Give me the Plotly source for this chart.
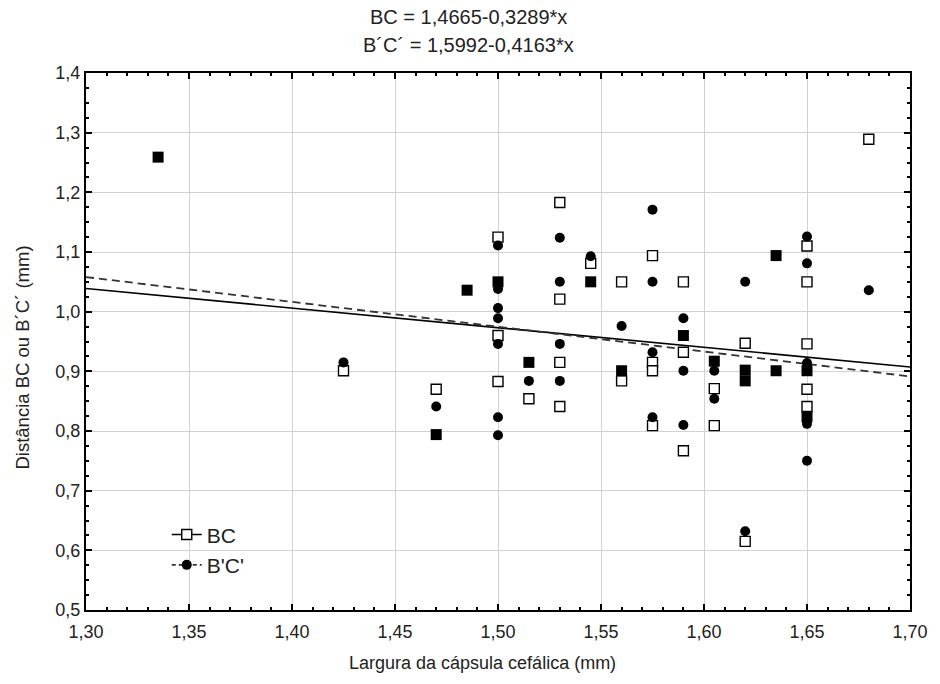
import plotly.graph_objects as go

# Open squares: BC only
bc_x = [1.425, 1.47, 1.50, 1.50, 1.50, 1.515, 1.53, 1.53, 1.53, 1.53, 1.545,
        1.56, 1.56, 1.575, 1.575, 1.575, 1.575, 1.59, 1.59, 1.59, 1.605, 1.605,
        1.62, 1.62, 1.65, 1.65, 1.65, 1.65, 1.65, 1.68]
bc_y = [0.901, 0.870, 1.125, 0.960, 0.883, 0.854, 1.183, 1.021, 0.915, 0.841, 1.081,
        1.050, 0.884, 1.094, 0.915, 0.901, 0.809, 1.050, 0.932, 0.767, 0.871, 0.809,
        0.947, 0.615, 1.110, 1.050, 0.946, 0.870, 0.841, 1.289]

# Filled circles: B'C' only
bcp_x = [1.425, 1.47, 1.50, 1.50, 1.50, 1.50, 1.50, 1.50, 1.50, 1.515,
         1.53, 1.53, 1.53, 1.53, 1.545, 1.56, 1.575, 1.575, 1.575, 1.575,
         1.59, 1.59, 1.59, 1.605, 1.605, 1.62, 1.62, 1.65, 1.65, 1.65, 1.65, 1.65, 1.68]
bcp_y = [0.915, 0.841, 1.111, 1.038, 1.006, 0.989, 0.946, 0.823, 0.793, 0.884,
         1.124, 1.050, 0.946, 0.884, 1.093, 0.976, 1.171, 1.050, 0.932, 0.823,
         0.989, 0.901, 0.810, 0.901, 0.854, 1.050, 0.632, 1.126, 1.081, 0.914, 0.812, 0.750, 1.036]

# Filled squares: BC and B'C' coincide
both_x = [1.335, 1.47, 1.485, 1.50, 1.515, 1.545, 1.56, 1.59, 1.605, 1.62, 1.62,
          1.635, 1.635, 1.65, 1.65]
both_y = [1.259, 0.794, 1.036, 1.050, 0.915, 1.050, 0.901, 0.960, 0.917, 0.902, 0.884,
          1.094, 0.901, 0.901, 0.824]

# Regression coefficients (intercept, slope)
bc_fit = (1.4665, -0.3289)
bcp_fit = (1.5992, -0.4163)
x_range = [1.30, 1.70]

title_lines = ["BC = 1,4665-0,3289*x", "B\u00b4C\u00b4 = 1,5992-0,4163*x"]
x_title = "Largura da cápsula cefálica (mm)"
y_title = "Distância BC ou B\u00b4C\u00b4 (mm)"

FONT = "Liberation Sans, Arial, sans-serif"
TXT = "#222222"

fig = go.Figure()

fig.add_trace(go.Scatter(
    x=x_range, y=[bc_fit[0] + bc_fit[1] * v for v in x_range],
    mode="lines", line=dict(color="black", width=1.6), showlegend=False, hoverinfo="skip"))
fig.add_trace(go.Scatter(
    x=x_range, y=[bcp_fit[0] + bcp_fit[1] * v for v in x_range],
    mode="lines", line=dict(color="#333333", width=1.8, dash="8px,5px"), showlegend=False,
    hoverinfo="skip"))

fig.add_trace(go.Scatter(
    x=bc_x, y=bc_y, mode="markers", showlegend=False,
    marker=dict(symbol="square", size=10, color="white", line=dict(color="black", width=1.4))))
fig.add_trace(go.Scatter(
    x=bcp_x, y=bcp_y, mode="markers", showlegend=False,
    marker=dict(symbol="circle", size=10, color="black")))
fig.add_trace(go.Scatter(
    x=both_x, y=both_y, mode="markers", showlegend=False,
    marker=dict(symbol="square", size=11, color="black")))

# legend entries
fig.add_trace(go.Scatter(
    x=[None], y=[None], mode="lines+markers", name="BC",
    line=dict(color="black", width=1.6),
    marker=dict(symbol="square", size=10, color="white", line=dict(color="black", width=1.4))))
fig.add_trace(go.Scatter(
    x=[None], y=[None], mode="lines+markers", name="B'C'",
    line=dict(color="#333333", width=1.6, dash="4px,3px"),
    marker=dict(symbol="circle", size=10, color="black")))

axis_common = dict(
    showline=True, linecolor="black", linewidth=2, mirror="ticks",
    ticks="inside", ticklen=6, tickwidth=1.5, tickcolor="black",
    showgrid=True, gridcolor="#d2d2d2", gridwidth=1, zeroline=False,
    tickfont=dict(family=FONT, size=18, color=TXT),
)

plot_left, plot_right = 86, 917
plot_top, plot_bottom = 73, 610
def paper_y(py):
    return (plot_bottom - py) / (plot_bottom - plot_top)
def paper_x(px):
    return (px - plot_left) / (plot_right - plot_left)

annotations = [
    dict(text=t, xref="paper", yref="paper", x=paper_x(472), y=paper_y(py),
         xanchor="center", yanchor="middle", showarrow=False,
         font=dict(family=FONT, size=20, color=TXT))
    for t, py in zip(title_lines, [17, 45])
]
annotations.append(dict(
    text=x_title, xref="paper", yref="paper", x=paper_x(486), y=paper_y(663),
    xanchor="center", yanchor="middle", showarrow=False,
    font=dict(family=FONT, size=18, color=TXT)))
annotations.append(dict(
    text=y_title, xref="paper", yref="paper", x=paper_x(21), y=paper_y(358),
    xanchor="center", yanchor="middle", showarrow=False, textangle=-90,
    font=dict(family=FONT, size=18.5, color=TXT)))

fig.update_layout(
    width=940, height=684,
    margin=dict(l=plot_left, r=940 - plot_right, t=plot_top, b=684 - plot_bottom),
    paper_bgcolor="white", plot_bgcolor="white",
    separators=",.",
    font=dict(family=FONT, color=TXT),
    annotations=annotations,
    xaxis=dict(
        range=x_range, dtick=0.05, tick0=1.30, tickformat=".2f", ticklabelstandoff=4,
        minor=dict(dtick=0.01, ticks="inside", ticklen=3, tickcolor="black", showgrid=False),
        **axis_common),
    yaxis=dict(
        range=[0.5, 1.4], dtick=0.1, tick0=0.5, tickformat=".1f",
        minor=dict(dtick=0.025, ticks="inside", ticklen=3, tickcolor="black", showgrid=False),
        **axis_common),
    legend=dict(
        x=0.098, y=0.178, xanchor="left", yanchor="top",
        bgcolor="rgba(0,0,0,0)", borderwidth=0,
        font=dict(family=FONT, size=21, color=TXT),
        itemwidth=30, tracegroupgap=0),
)

fig.write_html("out.html")
